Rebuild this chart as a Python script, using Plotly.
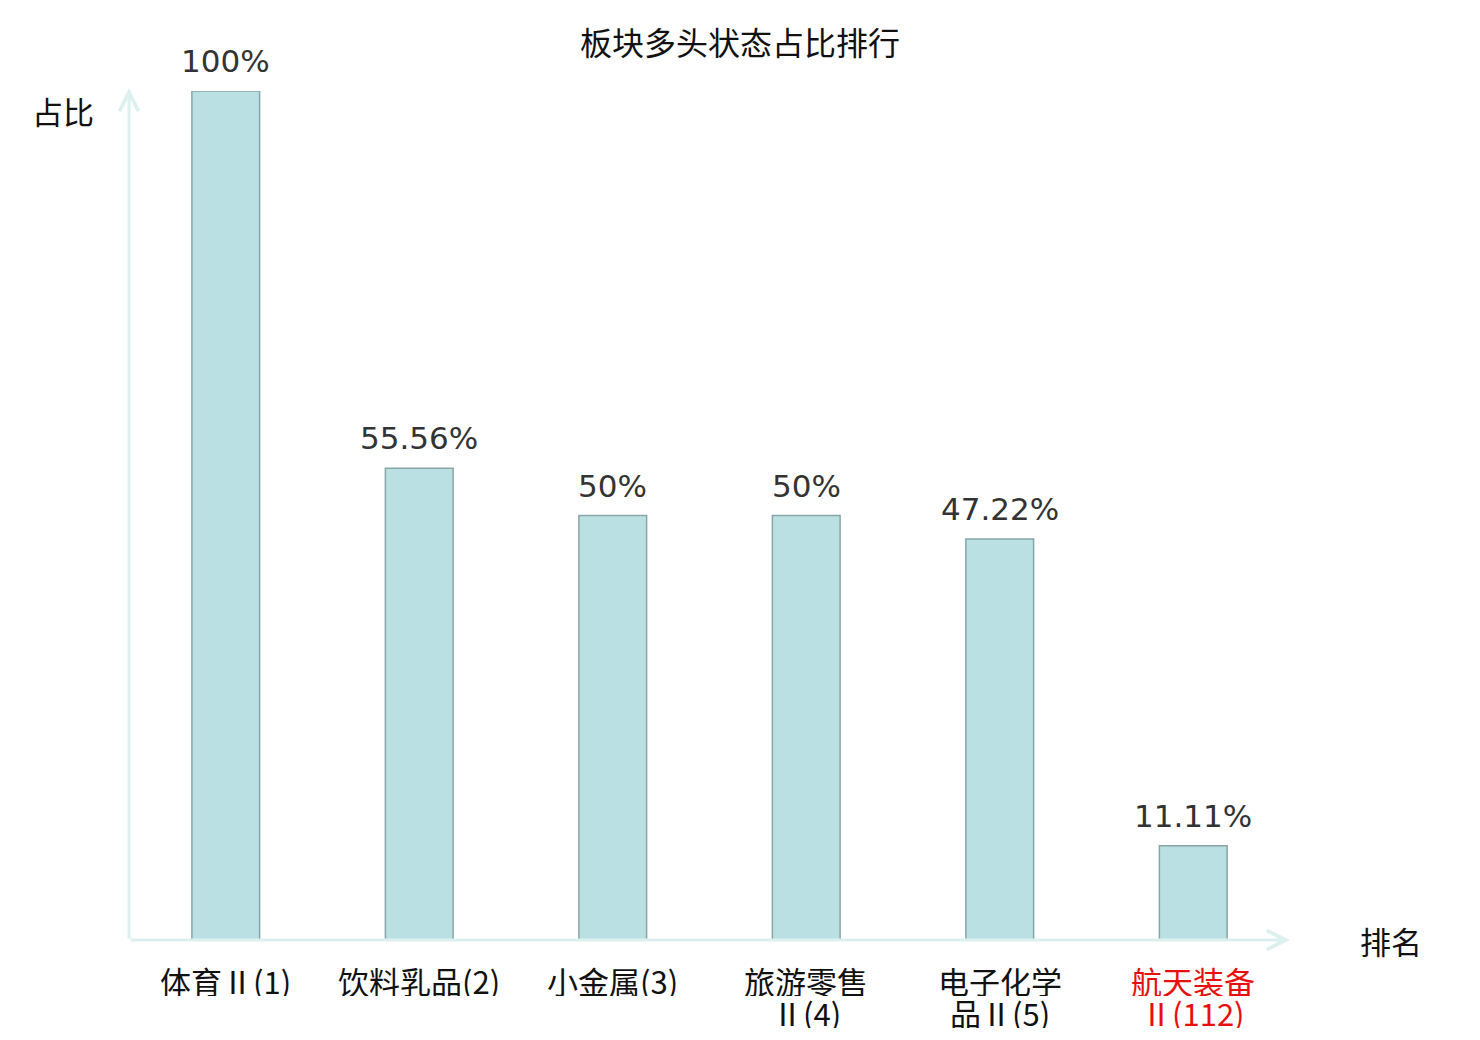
import plotly.graph_objects as go

sectors = ["体育Ⅱ(1)", "饮料乳品(2)", "小金属(3)", "旅游零售Ⅱ(4)", "电子化学品Ⅱ(5)", "航天装备Ⅱ(112)"]
# tick labels as shown, one list entry per line
tick_lines = [
    ["体育Ⅱ(1)"],
    ["饮料乳品(2)"],
    ["小金属(3)"],
    ["旅游零售", "Ⅱ(4)"],
    ["电子化学", "品Ⅱ(5)"],
    ["航天装备", "Ⅱ(112)"],
]
tick_colors = ["#111111", "#111111", "#111111", "#111111", "#111111", "#e8100f"]
shares = [100, 55.56, 50, 50, 47.22, 11.11]
share_labels = ["100%", "55.56%", "50%", "50%", "47.22%", "11.11%"]

AXIS_COLOR = "#dcf1ee"
CJK = "Noto Sans CJK SC"

fig = go.Figure()
fig.add_trace(
    go.Bar(
        x=sectors,
        y=shares,
        width=0.35,
        marker=dict(color="#bbe0e3", line=dict(color="#88a6a8", width=1.5)),
        hoverinfo="x+y",
    )
)

annotations = []
for name, value, label in zip(sectors, shares, share_labels):
    annotations.append(
        dict(
            x=name, y=value, xref="x", yref="y", text=label, showarrow=False,
            yanchor="bottom", yshift=10,
            font=dict(family="DejaVu Sans", size=31, color="#333333"),
        )
    )

# category labels under the axis (tight line spacing like the original)
for name, lines, color in zip(sectors, tick_lines, tick_colors):
    for i, line in enumerate(lines):
        annotations.append(
            dict(
                x=name, y=0, xref="x", yref="paper", text=line, showarrow=False,
                xanchor="center", yanchor="middle", yshift=-40 - 32 * i,
                height=32, valign="middle",
                font=dict(family=CJK, size=31, color=color),
            )
        )

# axis arrows
annotations.append(
    dict(x=0, y=1.0035, xref="paper", yref="paper", ax=0, ay=852, axref="pixel", ayref="pixel",
         text="", showarrow=True, arrowhead=5, arrowwidth=3, arrowsize=1.25, arrowcolor=AXIS_COLOR)
)
annotations.append(
    dict(x=1.0, y=0, xref="paper", yref="paper", ax=-1161, ay=0, axref="pixel", ayref="pixel",
         text="", showarrow=True, arrowhead=5, arrowwidth=3, arrowsize=1.25, arrowcolor=AXIS_COLOR)
)
annotations.append(
    dict(x=-0.0568, y=0.9776, xref="paper", yref="paper", text="占比", showarrow=False,
         xanchor="center", yanchor="middle",
         font=dict(family=CJK, size=31, color="#111111"))
)
annotations.append(
    dict(x=1.087, y=-0.001, xref="paper", yref="paper", text="排名", showarrow=False,
         xanchor="center", yanchor="middle",
         font=dict(family=CJK, size=31, color="#111111"))
)

fig.update_layout(
    width=1480,
    height=1040,
    margin=dict(l=121, r=198, t=83, b=108),
    paper_bgcolor="white",
    plot_bgcolor="white",
    showlegend=False,
    title=dict(
        text="板块多头状态占比排行",
        x=0.4946,
        xanchor="center",
        y=0.966,
        yanchor="middle",
        font=dict(family=CJK, size=32, color="#111111"),
    ),
    annotations=annotations,
)
fig.update_xaxes(
    type="category",
    showticklabels=False,
    showgrid=False,
    showline=False,
    zeroline=False,
    ticks="",
    range=[-0.5, 5.5],
)
fig.update_yaxes(visible=False, range=[0, 100], showgrid=False, zeroline=False)

fig.write_html("out.html")
